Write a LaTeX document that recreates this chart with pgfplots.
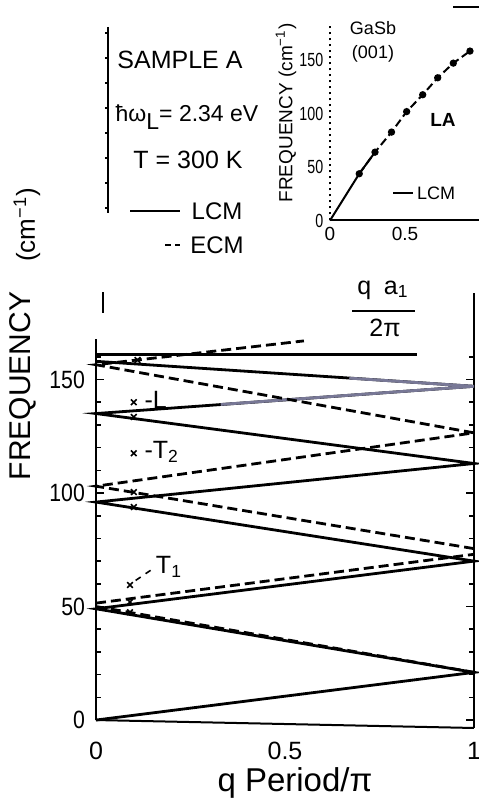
\documentclass[border=0pt]{standalone}
\usepackage{fontspec}
\setmainfont{Liberation Sans}
\usepackage{pgfplots}
\pgfplotsset{compat=1.18}
\newcommand{\fs}[1]{\fontsize{#1}{#1}\selectfont}
\begin{document}
\begin{tikzpicture}[x=0.5pt,y=0.5pt]
\tikzset{
  lcm/.style={black, line width=1.4pt},
  ecm/.style={black, line width=1.4pt, dash pattern=on 5pt off 2.5pt},
}
% main panel: folded LA branches
\begin{axis}[
  at={(48pt,35.8pt)}, anchor=south west,
  scale only axis, width=189pt, height=195.25pt,
  xmin=0, xmax=1, ymin=-5, ymax=167,
  clip=false,
  axis line style={draw=none},
  xtick={0,0.5,1}, xticklabels={0,0.5,1},
  xtick style={draw=none},
  ytick={0,50,100,150},
  minor ytick={10,20,30,40,60,70,80,90,110,120,130,140,160},
  tick align=inside,
  major tick length=4pt, minor tick length=2.5pt,
  tick style={black, line width=0.8pt},
  yticklabel style={font=\fs{12.5}, xscale=0.85, xshift=-3pt},
  xticklabel style={font=\fs{12.5}, yshift=-2pt},
  /pgf/number format/assume math mode=true,
]
\draw[line width=1pt] (axis cs:0,0) -- (axis cs:0,168);
\draw[line width=1pt] (axis cs:0,0) -- (axis cs:1,-3.5);
\draw[line width=1pt] (axis cs:1,-3.5) -- (axis cs:1,188);

\addplot[ecm] coordinates {(0,50) (1,21)};
\addplot[lcm] coordinates {(0,0) (1,21) (0,49) (1,70) (0,96) (1,113) (0,135) (1,147) (0,158)};
\addplot[lcm, color={rgb,255:red,120;green,120;blue,150}] coordinates {(0.33,139) (1,147) (0.67,150.6)};
\addplot[lcm] coordinates {(0,161) (0.85,161)};
\addplot[ecm] coordinates {(0,51.5) (1,73)};
\addplot[ecm] coordinates {(1,75.5) (0,103) (1,126.5) (0,156.5) (0.55,167)};

\addplot[only marks, mark=x, mark size=2pt, line width=0.8pt] coordinates {
  (0.09,52) (0.09,47.5) (0.1,100.4) (0.1,93.8) (0.1,133.5) (0.11,158.6)
  (0.09,59.5) (0.1,117.5) (0.1,140)};

\draw[dashed, line width=0.8pt] (axis cs:0.105,61.5) -- (axis cs:0.145,66);
\node[anchor=west, font=\fs{12.5}] at (axis cs:0.14,67.5) {T\textsubscript{1}};
\node[anchor=west, font=\fs{12.5}] at (axis cs:0.11,118) {-T\textsubscript{2}};
\node[anchor=west, font=\fs{12.5}] at (axis cs:0.11,141) {-L};
\end{axis}

% inset: GaSb LA dispersion
\begin{axis}[
  at={(165pt,291.25pt)}, anchor=south west,
  scale only axis, width=75pt, height=106.75pt,
  xmin=0, xmax=1, ymin=0, ymax=200,
  clip=false, axis line style={draw=none},
  xtick={0,0.5}, xticklabels={0,0.5},
  ytick={0,50,100,150},
  major tick length=0pt,
  yticklabel style={font=\fs{9.5}, xscale=0.75, xshift=-1pt},
  xticklabel style={font=\fs{9.5}},
  /pgf/number format/assume math mode=true,
]
\draw[dotted, line width=1pt] (axis cs:0,0) -- (axis cs:0,183);
\draw[line width=1pt] (axis cs:0,0) -- (axis cs:1,0);
\draw[line width=1pt] (axis cs:0.82,200) -- (axis cs:1,200);
\addplot[black, line width=1pt] coordinates {(0,0) (0.195,43.8) (0.30,64)};
\addplot[black, line width=1pt, dash pattern=on 4pt off 2pt, mark=*, mark size=1.3pt, mark options={solid}]
  coordinates {(0.195,43.8) (0.30,64) (0.41,82.8) (0.511,102) (0.618,117.8) (0.718,133.7) (0.822,147.4) (0.933,158.7)};
\end{axis}

% axis titles and key
\node[rotate=90, font=\fs{15}] at (23,417) {FREQUENCY};
\node[rotate=90, font=\fs{13}] at (27,578) {(cm\textsuperscript{−1})};
\node[font=\fs{16.5}] at (295,20) {q Period/π};

\draw[line width=1pt] (108,776) -- (108,590);
\foreach \yy in {770,745,...,595} \draw[line width=0.6pt] (108,\yy) -- (105,\yy);
\draw[line width=1pt] (103,490) -- (103,511);

\node[font=\fs{12.5}] at (180,743) {SAMPLE A};
\node[font=\fs{11.5}] at (187,686) {ħω\raisebox{-0.7ex}{L}= 2.34 eV};
\node[font=\fs{12.5}] at (188,643) {T = 300 K};
\draw[line width=1pt] (130,592) -- (180,592);
\node[font=\fs{12}] at (217,592) {LCM};
\draw[line width=1pt, dash pattern=on 3pt off 2pt] (165,558) -- (180,558);
\node[font=\fs{12}] at (217,558) {ECM};

\node[font=\fs{9}] at (373,775) {GaSb};
\node[font=\fs{9}] at (373,749) {(001)};
\node[font=\fs{9.5}] at (443,683) {\textbf{LA}};
\draw[line width=1pt] (393,610) -- (413,610);
\node[font=\fs{9}] at (436,610) {LCM};
\node[rotate=90, font=\fs{9.5}] at (286,690) {FREQUENCY (cm\textsuperscript{−1})};

\node[font=\fs{12.5}] at (383,513) {q\enspace a\textsubscript{1}};
\draw[line width=1pt] (352,492) -- (415,492);
\node[font=\fs{12.5}] at (385,475) {2π};

\pgfresetboundingbox
\useasboundingbox (0,0) rectangle (478,803);
\end{tikzpicture}
\end{document}
